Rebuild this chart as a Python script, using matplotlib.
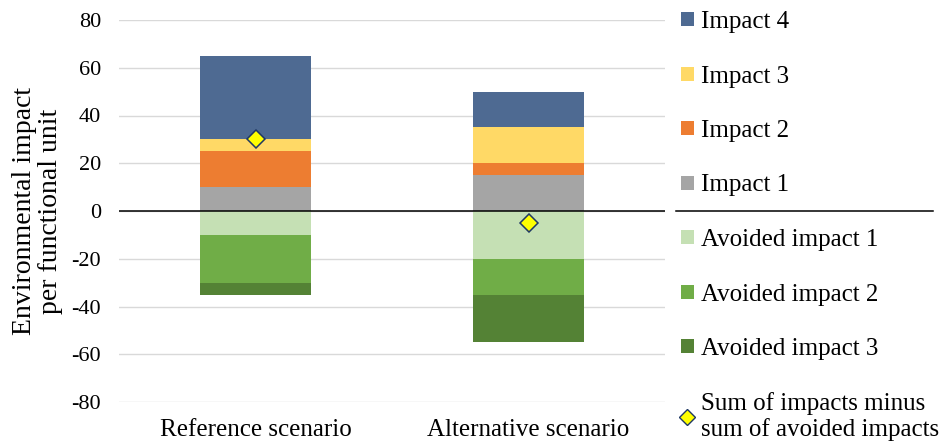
import matplotlib
matplotlib.use("Agg")
import matplotlib.pyplot as plt
from matplotlib.patches import Patch
from matplotlib.lines import Line2D
import numpy as np

plt.rcParams["font.family"] = ["Liberation Serif", "DejaVu Serif"]
plt.rcParams["axes.unicode_minus"] = False

scenarios = ["Reference scenario", "Alternative scenario"]

impact_labels = ["Impact 1", "Impact 2", "Impact 3", "Impact 4"]
impact_values = [
    [10, 15],   # Impact 1
    [15, 5],    # Impact 2
    [5, 15],    # Impact 3
    [35, 15],   # Impact 4
]
impact_colors = ["#A5A5A5", "#ED7D31", "#FFD966", "#4E6A92"]

avoided_labels = ["Avoided impact 1", "Avoided impact 2", "Avoided impact 3"]
avoided_values = [
    [10, 20],   # Avoided impact 1
    [20, 15],   # Avoided impact 2
    [5, 20],    # Avoided impact 3
]
avoided_colors = ["#C5E0B4", "#70AD47", "#548235"]

net_label = "Sum of impacts minus\nsum of avoided impacts"

fig = plt.figure(figsize=(9.42, 4.42), dpi=100)
ax = fig.add_axes([119 / 942, 1 - 402 / 442, (665 - 119) / 942, (402 - 20) / 442])

x = np.arange(len(scenarios))
width = 0.405

bottom = np.zeros(len(scenarios))
for vals, col in zip(impact_values, impact_colors):
    v = np.array(vals, dtype=float)
    ax.bar(x, v, width, bottom=bottom, color=col, zorder=2)
    bottom += v
total_impacts = bottom.copy()

bottom = np.zeros(len(scenarios))
for vals, col in zip(avoided_values, avoided_colors):
    v = np.array(vals, dtype=float)
    ax.bar(x, -v, width, bottom=-bottom, color=col, zorder=2)
    bottom += v
total_avoided = bottom.copy()

net = total_impacts - total_avoided
ax.plot(x, net, linestyle="none", marker="D", markersize=9,
        markerfacecolor="#FFFF00", markeredgecolor="#1F3864",
        markeredgewidth=1.1, zorder=4)

ax.axhline(0, color="black", linewidth=1.1, zorder=3)

ax.set_xlim(-0.5, 1.5)
ax.set_ylim(-80, 80)
ax.set_yticks(np.arange(-80, 81, 20))
ax.set_xticks(x)
ax.set_xticklabels(scenarios, fontsize=18)
ax.tick_params(axis="y", labelsize=16, length=0, pad=13)
ax.tick_params(axis="x", length=0, pad=12.5)
ax.grid(axis="y", color="#D9D9D9", linewidth=1.0, zorder=0)
ax.set_axisbelow(True)
for s in ax.spines.values():
    s.set_visible(False)

ax.set_ylabel("Environmental impact\nper functional unit", fontsize=20,
              linespacing=1.05, labelpad=6)

# legend: impacts from top down, then avoided impacts, then net marker
handles = [Patch(facecolor=c, edgecolor="none") for c in impact_colors[::-1]]
labels = impact_labels[::-1]
handles += [Patch(facecolor=c, edgecolor="none") for c in avoided_colors]
labels += avoided_labels
handles.append(Line2D([], [], linestyle="none", marker="D", markersize=8.5,
                      markerfacecolor="#FFFF00", markeredgecolor="#1F3864",
                      markeredgewidth=1.0))
labels.append(net_label)

leg = fig.legend(handles, labels, loc="upper left",
                 bbox_to_anchor=(681 / 942, 1 - 11 / 442),
                 frameon=False, fontsize=18, handlelength=0.5,
                 handleheight=0.5, handletextpad=0.3, labelspacing=1.3,
                 borderpad=0, borderaxespad=0)
for t in leg.get_texts():
    t.set_linespacing(1.15)

# separator between impacts and avoided impacts in the legend
fig.add_artist(Line2D([676 / 942, 933 / 942], [1 - 210.5 / 442, 1 - 210.5 / 442],
                      color="black", linewidth=1.1, transform=fig.transFigure))

fig.savefig("out.png", dpi=100)
